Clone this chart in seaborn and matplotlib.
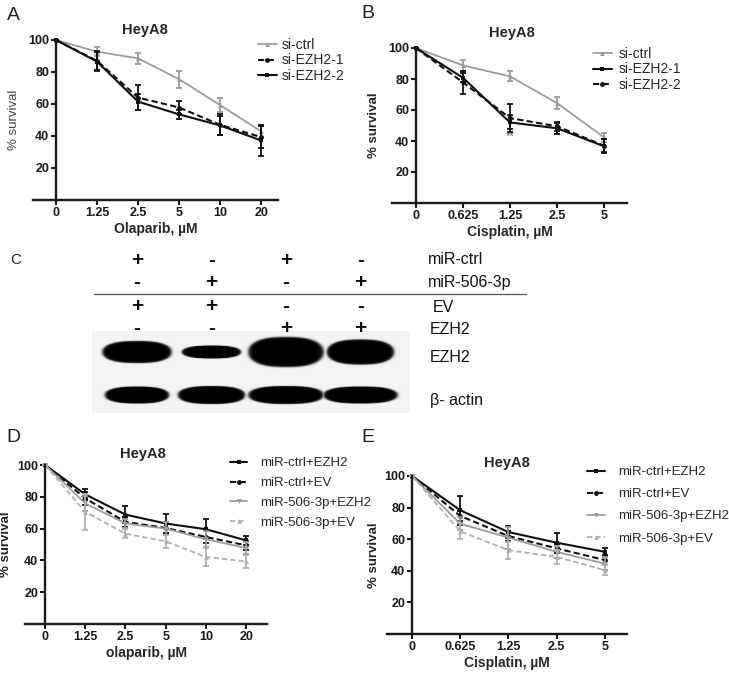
import numpy as np
import pandas as pd
import seaborn as sns
import matplotlib.pyplot as plt

# --- doses ---
DOSE_OLA = ["0", "1.25", "2.5", "5", "10", "20"]
DOSE_CIS = ["0", "0.625", "1.25", "2.5", "5"]

# --- panel A : olaparib, siRNA ---
a_ctrl = [100, 92.7, 88.5, 75.5, 59.3, 42.9]
a_ctrl_err = [0, 3.0, 3.3, 5.4, 4.2, 4.0]
a_ezh2_1 = [100, 87.0, 64.0, 57.8, 47.0, 39.3]
a_ezh2_1_err = [0, 6.0, 7.7, 3.8, 6.5, 7.0]
a_ezh2_2 = [100, 86.5, 61.5, 53.5, 46.6, 37.2]
a_ezh2_2_err = [0, 6.0, 5.0, 3.0, 6.0, 9.5]

# --- panel B : cisplatin, siRNA ---
b_ctrl = [100, 88.8, 81.7, 64.5, 42.4]
b_ctrl_err = [0, 3.4, 3.2, 3.8, 2.8]
b_ezh2_1 = [100, 80.8, 52.0, 48.2, 36.6]
b_ezh2_1_err = [0, 3.0, 4.5, 3.7, 4.5]
b_ezh2_2 = [100, 77.8, 54.8, 49.5, 37.0]
b_ezh2_2_err = [0, 7.5, 9.0, 3.0, 4.0]

# --- panel D : olaparib, miRNA + rescue ---
d_ctrl_ezh2 = [100, 81.5, 68.8, 63.2, 59.6, 52.6]
d_ctrl_ezh2_err = [0, 3.5, 5.5, 6.0, 6.3, 2.6]
d_ctrl_ev = [100, 79.0, 64.2, 60.4, 54.7, 49.5]
d_ctrl_ev_err = [0, 4.0, 3.0, 4.0, 4.0, 3.0]
d_506_ezh2 = [100, 75.8, 63.2, 60.0, 53.3, 47.8]
d_506_ezh2_err = [0, 5.0, 3.0, 4.0, 5.0, 4.0]
d_506_ev = [100, 70.5, 56.8, 52.0, 42.1, 39.4]
d_506_ev_err = [0, 11.5, 3.0, 4.0, 5.5, 4.0]

# --- panel E : cisplatin, miRNA + rescue ---
e_ctrl_ezh2 = [100, 78.3, 64.5, 57.8, 52.0]
e_ctrl_ezh2_err = [0, 9.0, 3.8, 6.2, 2.7]
e_ctrl_ev = [100, 74.7, 62.0, 54.2, 46.8]
e_ctrl_ev_err = [0, 3.0, 3.0, 3.0, 3.0]
e_506_ezh2 = [100, 69.8, 61.0, 52.0, 44.5]
e_506_ezh2_err = [0, 4.0, 7.0, 4.0, 4.0]
e_506_ev = [100, 65.0, 53.0, 48.8, 40.4]
e_506_ev_err = [0, 5.0, 5.5, 4.5, 3.0]

# --- panel C : western blot ---
ROW_MIR_CTRL = ["+", "-", "+", "-"]
ROW_MIR_506 = ["-", "+", "-", "+"]
ROW_EV = ["+", "+", "-", "-"]
ROW_EZH2 = ["-", "-", "+", "+"]
ezh2_band_w = [69, 59, 75, 67]
ezh2_band_h = [22, 13, 30, 25]
actin_band_w = [64, 67, 75, 74]
actin_band_h = [17, 18, 18, 17]

BLACK = "#111111"
GRAY = "#9c9c9c"
LGRAY = "#b0b0b0"
SOLID = "-"
DASH = (0, (3, 1.6))

sns.set_theme(style="ticks")
plt.rcParams["font.family"] = ["Liberation Sans", "DejaVu Sans"]

W, H = 729, 674
fig = plt.figure(figsize=(W / 100, H / 100), dpi=100)


def px_axes(left, right, top, bottom):
    return fig.add_axes([left / W, 1 - bottom / H, (right - left) / W, (bottom - top) / H])


def draw_panel(ax, doses, series, xlab, xlim, title_x, title_dy, bold_ylab, ylab_x):
    pos = np.arange(len(doses))
    for label, mean, err, color, ls, mk, lw in series:
        df = pd.DataFrame({"pos": pos, "surv": mean})
        sns.lineplot(data=df, x="pos", y="surv", ax=ax, color=color, linestyle=ls,
                     marker=mk, markersize=3.5, markeredgewidth=0, linewidth=lw,
                     label=label, clip_on=False, legend=False)
        ax.errorbar(pos, mean, yerr=err, fmt="none", ecolor=color, elinewidth=1.3,
                    capsize=2.5, capthick=1.3, clip_on=False)
    ax.set_xlim(*xlim)
    ax.set_ylim(0, 100)
    ax.spines["left"].set_position(("data", 0))
    ax.spines[["top", "right"]].set_visible(False)
    for s in ("left", "bottom"):
        ax.spines[s].set_linewidth(1.7)
        ax.spines[s].set_color("#1a1a1a")
    ax.set_xticks(pos)
    ax.set_xticklabels(doses)
    ax.set_yticks([20, 40, 60, 80, 100])
    ax.tick_params(axis="both", width=1.5, length=3.5, labelsize=9, pad=1.5, colors="#1a1a1a")
    plt.setp(ax.get_xticklabels() + ax.get_yticklabels(), fontweight="bold")
    ax.set_xlabel(xlab, fontsize=10, fontweight="bold", labelpad=2)
    if bold_ylab:
        ax.set_ylabel("% survival", fontsize=9.5, fontweight="bold")
    else:
        ax.set_ylabel("% survival", fontsize=9.5, color="#444444")
    ax.yaxis.set_label_coords(ylab_x, 0.5)
    ax.text(title_x, 1 + title_dy, "HeyA8", transform=ax.transAxes, ha="center",
            va="center", fontsize=10.5, fontweight="bold")
    ax.set_facecolor("none")


def legend(ax, x, top, fs, spacing, hl, tp):
    ax.legend(loc="upper left", bbox_to_anchor=(x / W, 1 - top / H),
              bbox_transform=fig.transFigure, frameon=False, fontsize=fs,
              borderpad=0, borderaxespad=0, labelspacing=spacing,
              handlelength=hl, handletextpad=tp)


# overlay for panel letters and the blot
ov = fig.add_axes([0, 0, 1, 1])
ov.set_facecolor("none")

# A
axA = px_axes(33, 278, 40, 200)
draw_panel(axA, DOSE_OLA, [
    ("si-ctrl", a_ctrl, a_ctrl_err, GRAY, SOLID, "^", 1.3),
    ("si-EZH2-1", a_ezh2_1, a_ezh2_1_err, BLACK, DASH, "o", 1.5),
    ("si-EZH2-2", a_ezh2_2, a_ezh2_2_err, BLACK, SOLID, "s", 1.5),
], "Olaparib, \u00b5M", (-0.56, 5.41), 0.457, 0.06, False, -0.055)
legend(axA, 258, 38, 10, 0.1, 1.35, 0.35)

# B
axB = px_axes(392, 627, 48, 203)
draw_panel(axB, DOSE_CIS, [
    ("si-ctrl", b_ctrl, b_ctrl_err, GRAY, SOLID, "^", 1.3),
    ("si-EZH2-1", b_ezh2_1, b_ezh2_1_err, BLACK, SOLID, "s", 1.5),
    ("si-EZH2-2", b_ezh2_2, b_ezh2_2_err, BLACK, DASH, "o", 1.5),
], "Cisplatin, \u00b5M", (-0.51, 4.49), 0.51, 0.1, True, -0.05)
axB.text(2, 43, "**", ha="center", va="center", fontsize=8, color="#555555")
legend(axB, 593, 47, 10, 0.1, 1.35, 0.5)

# D
axD = px_axes(25, 267, 465, 624)
draw_panel(axD, DOSE_OLA, [
    ("miR-ctrl+EZH2", d_ctrl_ezh2, d_ctrl_ezh2_err, BLACK, SOLID, "s", 1.5),
    ("miR-ctrl+EV", d_ctrl_ev, d_ctrl_ev_err, BLACK, DASH, "o", 1.5),
    ("miR-506-3p+EZH2", d_506_ezh2, d_506_ezh2_err, GRAY, SOLID, "v", 1.3),
    ("miR-506-3p+EV", d_506_ev, d_506_ev_err, LGRAY, DASH, "^", 1.3),
], "olaparib, \u00b5M", (-0.5, 5.52), 0.488, 0.07, True, -0.055)
legend(axD, 230, 457, 9.5, 0.58, 1.3, 1.0)

# E
axE = px_axes(387, 627, 476, 634)
draw_panel(axE, DOSE_CIS, [
    ("miR-ctrl+EZH2", e_ctrl_ezh2, e_ctrl_ezh2_err, BLACK, SOLID, "s", 1.5),
    ("miR-ctrl+EV", e_ctrl_ev, e_ctrl_ev_err, BLACK, DASH, "o", 1.5),
    ("miR-506-3p+EZH2", e_506_ezh2, e_506_ezh2_err, GRAY, SOLID, "v", 1.3),
    ("miR-506-3p+EV", e_506_ev, e_506_ev_err, LGRAY, DASH, "^", 1.3),
], "Cisplatin, \u00b5M", (-0.52, 4.46), 0.5, 0.085, True, -0.03)
legend(axE, 587, 466, 9.5, 0.75, 1.35, 1.0)

# --- panel C: blot drawn in pixel coordinates ---
lane_x = [137 + 74.5 * i for i in range(4)]

for row_vals, y in [(ROW_MIR_CTRL, 260), (ROW_MIR_506, 283), (ROW_EV, 307), (ROW_EZH2, 329)]:
    for lx, sign in zip(lane_x, row_vals):
        ov.text(lx, y, sign, ha="center", va="center", fontsize=15, fontweight="bold",
                color="#111111")
ov.plot([94, 526], [294, 294], color="#555555", lw=0.9)
for txt, x, y in [("miR-ctrl", 428, 260), ("miR-506-3p", 428, 283), ("EV", 433, 307),
                  ("EZH2", 430, 329), ("EZH2", 430, 358), ("\u03b2- actin", 430, 401)]:
    ov.text(x, y, txt, ha="left", va="center", fontsize=11.5, color="#111111")

bx0, bx1, by0, by1 = 92, 410, 331, 413
xx, yy = np.meshgrid(np.arange(bx0, bx1) + 0.5, np.arange(by0, by1) + 0.5)
dark = np.zeros_like(xx)
for row_y, widths, heights in [(352, ezh2_band_w, ezh2_band_h), (395, actin_band_w, actin_band_h)]:
    for cx, w, h in zip(lane_x, widths, heights):
        r = np.abs((xx - cx) / (w / 2)) ** 2.6 + np.abs((yy - row_y) / (h / 2)) ** 2.2
        dark = np.maximum(dark, 1 / (1 + np.exp((r - 1) * 14)))
img = 0.95 - 0.95 * dark
ov.imshow(img, cmap="gray", vmin=0, vmax=1, extent=(bx0, bx1, by1, by0),
          interpolation="bilinear", aspect="auto")

for letter, x, y, fs in [("A", 13, 15, 14), ("B", 368, 14, 14), ("C", 16, 260, 11),
                         ("D", 13, 438, 14), ("E", 368, 438, 14)]:
    ov.text(x, y, letter, ha="center", va="center", fontsize=fs, color="#222222")

ov.set_xlim(0, W)
ov.set_ylim(H, 0)
ov.axis("off")

fig.savefig("out.png", dpi=100)
